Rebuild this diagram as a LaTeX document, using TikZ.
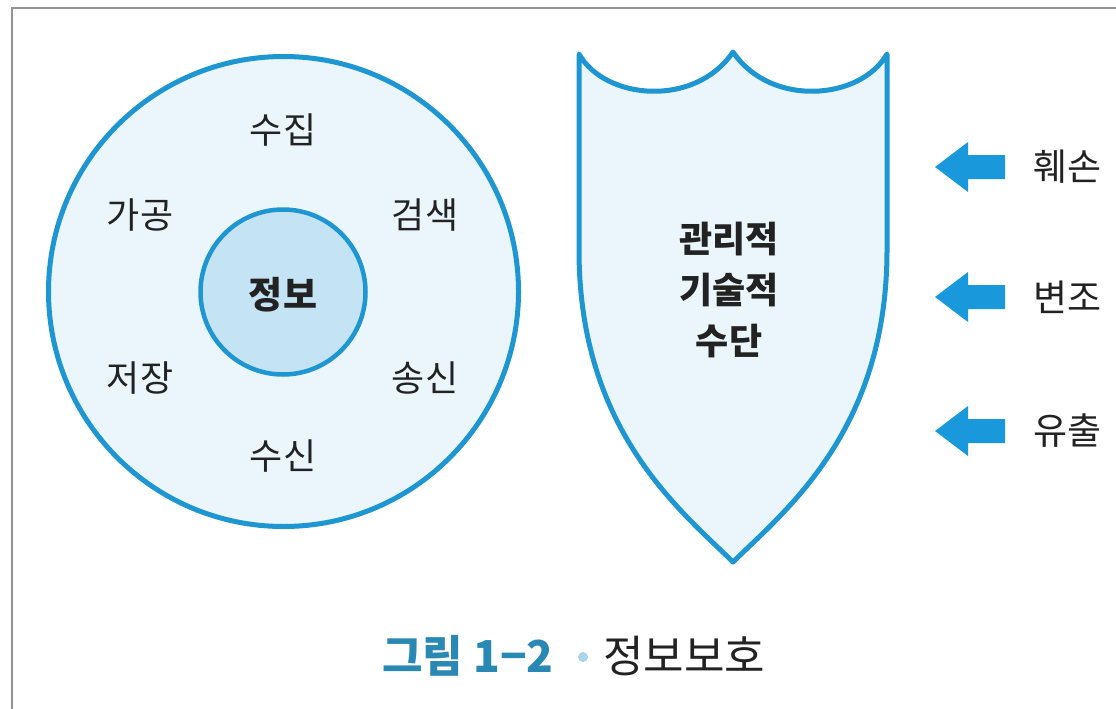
\documentclass[tikz,border=0pt]{standalone}
\usepackage{fontspec}
\newfontfamily\kr{Noto Sans CJK KR}
\definecolor{stroke}{HTML}{1E96D2}
\definecolor{paleblue}{HTML}{EAF6FC}
\definecolor{innerblue}{HTML}{C4E4F6}
\definecolor{arrowblue}{HTML}{1A98DC}
\definecolor{captionblue}{HTML}{2A88B4}
\definecolor{dot}{HTML}{A8D4EC}
\definecolor{txt}{HTML}{222222}
\begin{document}
\begin{tikzpicture}[x=1pt,y=-1pt,
  lbl/.style={font=\kr\fontsize{36}{40}\selectfont, text=txt, inner sep=0pt},
  blbl/.style={font=\kr\bfseries\fontsize{36}{51}\selectfont, text=txt, inner sep=0pt, align=center},
  att/.style={font=\kr\fontsize{37}{40}\selectfont, text=txt, inner sep=0pt, anchor=west},
  threat/.style={fill=arrowblue, draw=none}]
\useasboundingbox (0,0) rectangle (1116,709);
\fill[white] (0,0) rectangle (1116,709);
% frame
\draw[line width=2pt, gray!85] (12,720) -- (12,8) -- (1130,8);
% outer circle
\node[circle, draw=stroke, line width=5pt, fill=paleblue, minimum size=470pt, inner sep=0pt] (outer) at (283.5,291.5) {};
\node[circle, draw=stroke, line width=4.5pt, fill=innerblue, minimum size=165pt, inner sep=0pt] (inner) at (283,292) {};
\node[font=\kr\bfseries\fontsize{37}{40}\selectfont, text=txt] (info) at (283,295) {정보};
\node[lbl] (n1) at (283,130) {수집};
\node[lbl] (n2) at (140,215) {가공};
\node[lbl] (n3) at (425,215) {검색};
\node[lbl] (n4) at (140,378) {저장};
\node[lbl] (n5) at (425,378) {송신};
\node[lbl] (n6) at (283,456) {수신};
% shield
\draw[draw=stroke, line width=5pt, fill=paleblue, line join=round]
  (579,54) .. controls (605,100) and (695,108) .. (733,52)
  .. controls (771,108) and (861,100) .. (887,54)
  -- (887,250) .. controls (887,430) and (786,510) .. (733,562)
  .. controls (680,510) and (579,430) .. (579,250) -- cycle;
\node[blbl] (shieldtxt) at (729,290) {관리적\\기술적\\수단};
% threat arrows
\foreach \y/\t/\nm in {167/훼손/a, 297/변조/b, 431/유출/c}{
  \coordinate (tip\nm) at (935,\y);
  \fill[threat] (tip\nm) -- (968,\y-25) -- (968,\y-12) -- (1005,\y-12) -- (1005,\y+12) -- (968,\y+12) -- (968,\y+25) -- cycle;
  \node[att] (lab\nm) at (1033,\y) {\t};
}
% caption
\node[font=\kr\bfseries\fontsize{44}{46}\selectfont, text=captionblue, anchor=west, inner sep=0pt] (cap1) at (382,656) {그림 1−2};
\fill[dot] (583,657) circle (5);
\node[font=\kr\fontsize{44}{46}\selectfont, text=txt, anchor=west, inner sep=0pt] (cap2) at (603,656) {정보보호};
\end{tikzpicture}
\end{document}
